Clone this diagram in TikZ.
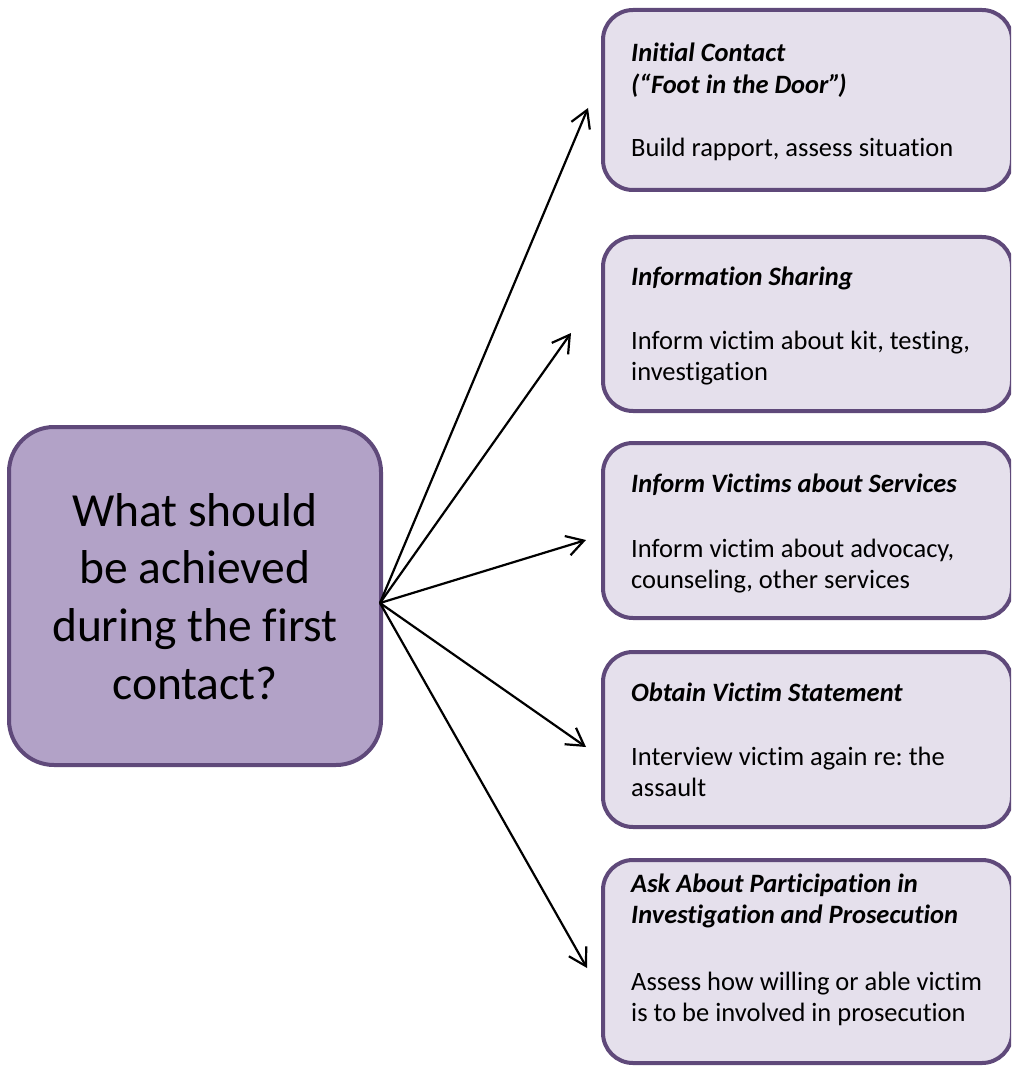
\documentclass[tikz,border=0pt]{standalone}
\usepackage{fontspec}
\setmainfont{Carlito}[Ligatures=NoCommon]
\frenchspacing
\usetikzlibrary{arrows.meta}
\definecolor{edgepurple}{HTML}{5F497A}
\definecolor{hubfill}{HTML}{B2A2C7}
\definecolor{leaffill}{HTML}{E5E0EC}
\begin{document}
\begin{tikzpicture}[x=1pt,y=-1pt,
  hub/.style={draw=edgepurple, line width=4pt, fill=hubfill, rounded corners=45pt,
    outer sep=0pt, inner sep=0pt, anchor=north west},
  leaf/.style={draw=edgepurple, line width=4pt, fill=leaffill, rounded corners=30pt,
    outer sep=0pt, inner sep=0pt, anchor=north west, minimum width=409pt},
  hubtext/.style={anchor=base, inner sep=0pt, font=\fontsize{47.5}{57}\selectfont},
  headtext/.style={anchor=base west, inner sep=0pt, font=\fontsize{26.5}{31}\selectfont\bfseries\itshape},
  bodytext/.style={anchor=base west, inner sep=0pt, font=\fontsize{26.5}{31}\selectfont},
  link/.style={line width=2.2pt, -{Straight Barb[length=17pt,width=20pt,line width=2.2pt]}}]
\useasboundingbox (0,0) rectangle (1011,1067);
\clip (0,0) rectangle (1011,1067);

% central question
\node[hub, minimum width=372pt, minimum height=338pt] (q) at (9,427) {};
\node[hubtext] (q1) at (195,526) {What should};
\node[hubtext] (q2) at (195,583) {be achieved};
\node[hubtext] (q3) at (195,641) {during the first};
\node[hubtext] (q4) at (195,699) {contact?};

% goal boxes
\node[leaf, minimum height=180pt] (b1) at (603,10) {};
\node[leaf, minimum height=174pt] (b2) at (603,237) {};
\node[leaf, minimum height=175pt] (b3) at (603,443) {};
\node[leaf, minimum height=175pt] (b4) at (603,652) {};
\node[leaf, minimum height=203pt] (b5) at (603,860) {};

\node[headtext] (b1h1) at (631,62) {Initial Contact};
\node[headtext] (b1h2) at (631,94) {(“Foot in the Door”\kern-2.5pt)};
\node[bodytext] (b1t1) at (631,157) {Build rapport, assess situation};

\node[headtext] (b2h1) at (631,285) {Information Sharing};
\node[bodytext] (b2t1) at (631,349) {Inform victim about kit, testing,};
\node[bodytext] (b2t2) at (631,380) {investigation};

\node[headtext] (b3h1) at (631,492) {Inform Victims about Services};
\node[bodytext] (b3t1) at (631,557) {Inform victim about advocacy,};
\node[bodytext] (b3t2) at (631,588) {counseling, other services};

\node[headtext] (b4h1) at (631,701) {Obtain Victim Statement};
\node[bodytext] (b4t1) at (631,765) {Interview victim again re: the};
\node[bodytext] (b4t2) at (631,796) {assault};

\node[headtext] (b5h1) at (631,892) {Ask About Participation in};
\node[headtext] (b5h2) at (631,923) {Investigation and Prosecution};
\node[bodytext] (b5t1) at (631,990) {Assess how willing or able victim};
\node[bodytext] (b5t2) at (631,1021) {is to be involved in prosecution};

% connectors from the question to each goal
\coordinate (src) at (380,603);
\coordinate (t1) at (588,108);
\coordinate (t2) at (571,333);
\coordinate (t3) at (586,540);
\coordinate (t4) at (586,747);
\coordinate (t5) at (587,968);
\foreach \t in {t1,t2,t3,t4,t5}
  \draw[link] (src) -- (\t);
\end{tikzpicture}
\end{document}
